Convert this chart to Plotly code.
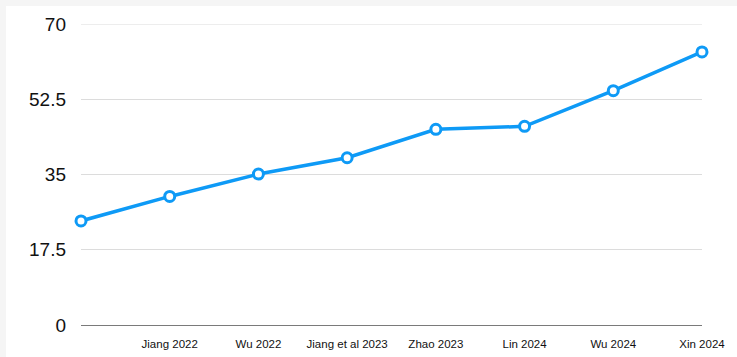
import plotly.graph_objects as go

# Study labels along the x axis (first point has no label)
studies = ["", "Jiang 2022", "Wu 2022", "Jiang et al 2023", "Zhao 2023",
           "Lin 2024", "Wu 2024", "Xin 2024"]
values = [24.2, 29.9, 35.1, 38.9, 45.5, 46.2, 54.5, 63.5]
y_ticks = [0, 17.5, 35, 52.5, 70]
y_tick_text = ["0", "17.5", "35", "52.5", "70"]

positions = list(range(len(studies)))

W, H = 737, 357
ML, MR, MT, MB = 81, 35, 24, 32
pw, ph = W - ML - MR, H - MT - MB

def px_x(p):
    return (p - ML) / pw

def px_y(p):
    return (H - MB - p) / ph

BLUE = "#0e9af6"
GRID = "#dcdcdc"

fig = go.Figure()
fig.add_trace(go.Scatter(
    x=positions, y=values, mode="lines+markers",
    line=dict(color=BLUE, width=3.5),
    marker=dict(symbol="circle", size=10, color="white",
                line=dict(color=BLUE, width=3)),
    cliponaxis=False, showlegend=False, hoverinfo="skip",
))

# thin grey frame along the top and left edges
band = "#f5f5f5"
fig.add_shape(type="rect", xref="paper", yref="paper",
              x0=px_x(0), x1=px_x(W), y0=px_y(6), y1=px_y(0),
              fillcolor=band, line_width=0, layer="below")
fig.add_shape(type="rect", xref="paper", yref="paper",
              x0=px_x(0), x1=px_x(6), y0=px_y(H), y1=px_y(0),
              fillcolor=band, line_width=0, layer="below")

# top gridline sits on the plot edge, draw it explicitly
fig.add_shape(type="line", xref="paper", yref="y",
              x0=0, x1=1, y0=y_ticks[-1], y1=y_ticks[-1],
              line=dict(color=GRID, width=1), layer="below")

fig.update_layout(
    width=W, height=H,
    margin=dict(l=ML, r=MR, t=MT, b=MB, pad=0),
    paper_bgcolor="white", plot_bgcolor="white",
    font=dict(family="Liberation Sans, Arial, sans-serif", color="#111"),
    xaxis=dict(
        range=[0, len(studies) - 1], automargin=False,
        tickmode="array", tickvals=positions, ticktext=studies,
        tickfont=dict(size=11.5, color="#111"),
        showgrid=False, zeroline=False,
        showline=True, linecolor="#7a7a7a", linewidth=1,
        ticks="", ticklabelstandoff=8,
    ),
    yaxis=dict(
        range=[0, 70], automargin=False,
        tickmode="array", tickvals=y_ticks, ticktext=y_tick_text,
        tickfont=dict(size=19, color="#111"),
        showgrid=True, gridcolor=GRID, gridwidth=1,
        zeroline=False, showline=False, ticks="",
        ticklabelstandoff=14,
    ),
)

fig.write_html("out.html")
